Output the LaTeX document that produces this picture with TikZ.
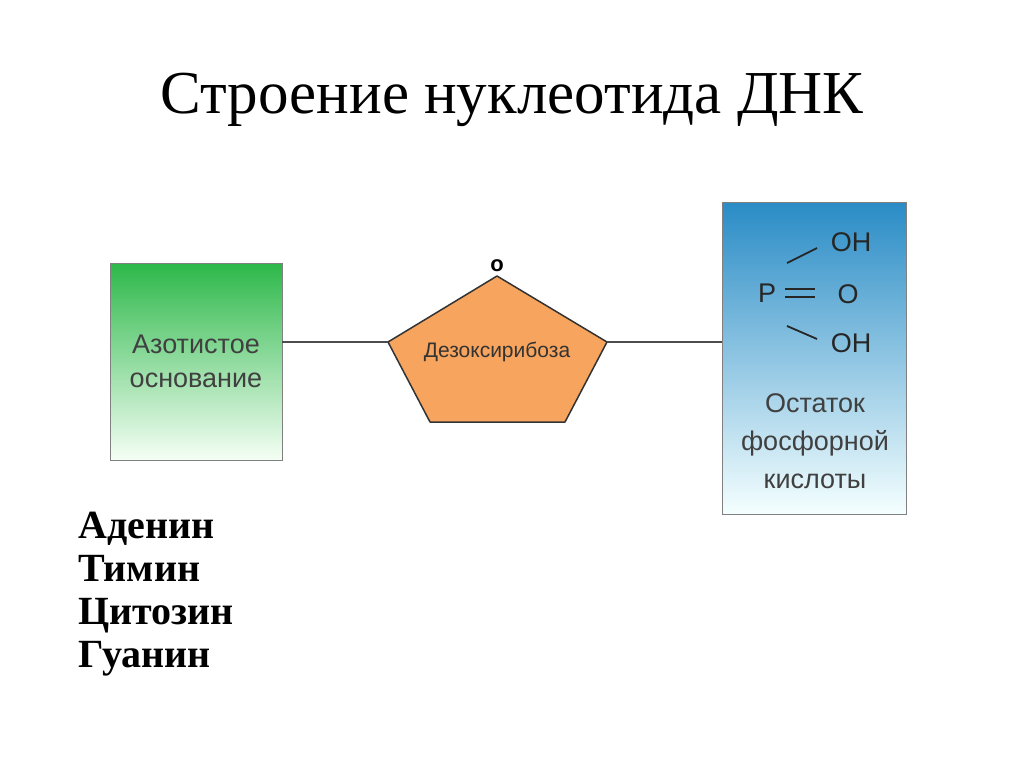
\documentclass[tikz,border=0pt]{standalone}
\usepackage{fontspec}
\setmainfont{Liberation Serif}
\newfontfamily\arialf{Liberation Sans}
\definecolor{gtop}{HTML}{2DB84A}
\definecolor{btop}{HTML}{2A8CC6}
\definecolor{orng}{HTML}{F6A45E}
\begin{document}
\begin{tikzpicture}[x=1pt,y=-1pt,
  lbl/.style={font=\arialf\fontsize{27}{34}\selectfont, text=black!75, align=center},
  chem/.style={font=\arialf\fontsize{27}{30}\selectfont, text=black!85},
  conn/.style={draw=black!70, line width=1.3pt}]
\useasboundingbox (0,0) rectangle (1024,767);
\node (title) at (512,100) {\fontsize{61}{66}\selectfont Строение нуклеотида ДНК};
% green box
\shade[top color=gtop, middle color=gtop!70, bottom color=green!4] (110,263) rectangle (282,460);
\draw[black!50, line width=1pt] (110,263) rectangle (282,460);
\node[lbl, minimum width=172pt, minimum height=197pt] (base) at (196,361.5) {Азотистое\\основание};
% pentagon
\coordinate (pt) at (497,276);
\coordinate (pl) at (388,342);
\coordinate (pr) at (607,342);
\draw[fill=orng, draw=black!80, line width=1.5pt, line join=round]
  (pt) -- (pr) -- (565,422) -- (430,422) -- (pl) -- cycle;
\node[font=\arialf\fontsize{21}{24}\selectfont, text=black!80] (sugar) at (497,352) {Дезоксирибоза};
\node[font=\arialf\bfseries\fontsize{22}{24}\selectfont] (ox) at (497,266) {o};
% blue box
\shade[top color=btop, middle color=btop!65, bottom color=cyan!4] (722,203) rectangle (906,514);
\draw[black!50, line width=1pt] (722,203) rectangle (906,514);
\node[minimum width=184pt, minimum height=311pt] (acid) at (814,358.5) {};
\node[chem] (P) at (767,293) {P};
\node[chem] (O) at (848,294) {O};
\node[chem] (OH1) at (851,242) {OH};
\node[chem] (OH2) at (851,343) {OH};
\draw[black!85, line width=1.8pt] (785,289) -- (815,289) (785,297) -- (815,297);
\draw[black!85, line width=1.8pt] (787,263) -- (817,248);
\draw[black!85, line width=1.8pt] (787,326) -- (817,339);
\node[lbl, font=\arialf\fontsize{27}{38}\selectfont] (acidtxt) at (815,441) {Остаток\\фосфорной\\кислоты};
% connectors
\draw[conn] (base.east |- 0,342) -- (pl);
\draw[conn] (pr) -- (acid.west |- 0,342);
% list
\node[anchor=north west, align=left, font=\bfseries\fontsize{40}{43}\selectfont, inner sep=0pt] (list) at (78,512) {Аденин\\Тимин\\Цитозин\\Гуанин};
\end{tikzpicture}
\end{document}
